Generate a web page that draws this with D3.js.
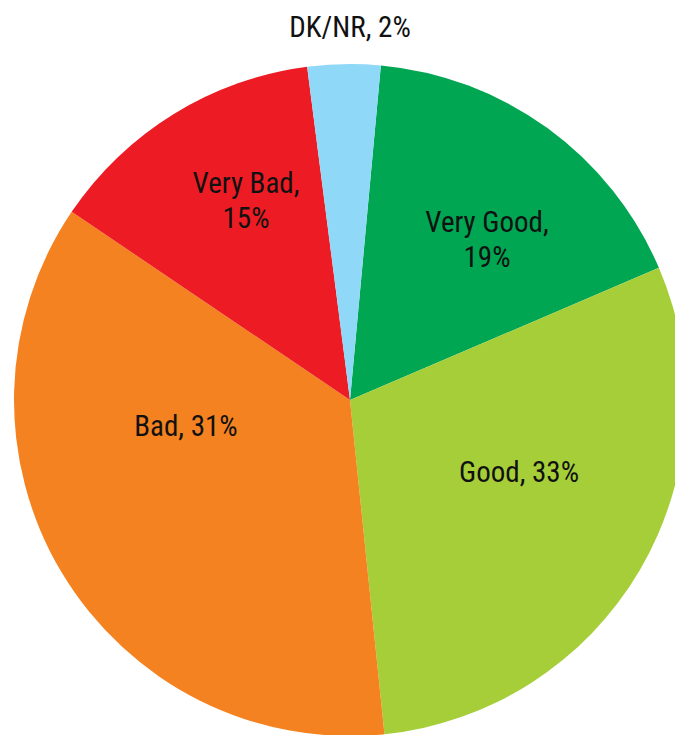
<!DOCTYPE html>
<html>
<head>
<meta charset="utf-8">
<script src="https://cdn.jsdelivr.net/npm/d3@7"></script>
<style>
  html, body { margin: 0; padding: 0; background: #fff; overflow: hidden; }
  svg { display: block; }
  text { font-family: "Liberation Sans Narrow", "Arial Narrow", "Roboto Condensed", sans-serif; }
</style>
</head>
<body>
<svg id="chart" width="675" height="735"></svg>
<script>
// Categories in clockwise order starting just right of 12 o'clock
const categories = ["Very Good", "Good", "Bad", "Very Bad", "DK/NR"];
// Slice shares as drawn in the picture (percent of the circle)
const sliceShares = [17.1, 29.8, 36.1, 13.5, 3.5];
// Label text shown on the chart
const labelPercents = ["19%", "33%", "31%", "15%", "2%"];
const colors = ["#00a651", "#a6ce39", "#f58220", "#ed1c24", "#90d8f7"];

const svg = d3.select("#chart");
const cx = 350, cy = 400, r = 336;
const startDeg = 5.27;

const pie = d3.pie()
  .sort(null)
  .value(d => d)
  .startAngle(startDeg * Math.PI / 180)
  .endAngle((startDeg + 360) * Math.PI / 180);

const arc = d3.arc().innerRadius(0).outerRadius(r);
const arcs = pie(sliceShares);

const g = svg.append("g").attr("transform", `translate(${cx},${cy})`);

g.selectAll("path")
  .data(arcs)
  .join("path")
  .attr("d", arc)
  .attr("fill", (d, i) => colors[i]);

// Label layout: lines and anchor positions (relative to center)
const labelLines = [
  [categories[0] + ",", labelPercents[0]],
  [categories[1] + ", " + labelPercents[1]],
  [categories[2] + ", " + labelPercents[2]],
  [categories[3] + ",", labelPercents[3]],
  [categories[4] + ", " + labelPercents[4]]
];
const labelPos = [
  [137, -168],
  [169, 82],
  [-164, 36],
  [-104, -207],
  [0, -363]
];
const lineH = 35;

labelLines.forEach((lines, i) => {
  const t = g.append("text")
    .attr("text-anchor", "middle")
    .attr("font-size", 29)
    .attr("fill", "#111");
  lines.forEach((ln, j) => {
    t.append("tspan")
      .attr("x", labelPos[i][0])
      .attr("y", labelPos[i][1] + j * lineH)
      .text(ln);
  });
});
</script>
</body>
</html>
